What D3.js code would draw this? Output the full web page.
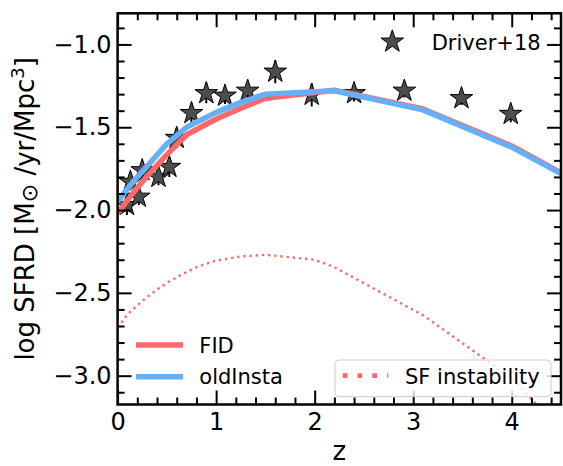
<!DOCTYPE html>
<html>
<head>
<meta charset="utf-8">
<script src="https://cdn.jsdelivr.net/npm/d3@7"></script>
<style>
  html, body { margin: 0; padding: 0; background: #fff; }
  svg { display: block; font-family: "DejaVu Sans", sans-serif; }
</style>
</head>
<body>
<svg id="chart" width="563" height="466"></svg>
<script>
// Driver+18 cosmic star-formation-rate density measurements
const driverZ      = [0.095, 0.13, 0.215, 0.25, 0.415, 0.525, 0.60, 0.75, 0.90, 1.09, 1.32, 1.60, 1.97, 2.40, 2.91, 3.49, 3.99];
const driverLogSFRD = [-1.97, -1.83, -1.92, -1.76, -1.80, -1.74, -1.565, -1.415, -1.295, -1.31, -1.28, -1.165, -1.305, -1.295, -1.28, -1.325, -1.42];
const driverErr    = [0.06, 0.05, 0.05, 0.05, 0.05, 0.06, 0.06, 0.06, 0.06, 0.05, 0.05, 0.07, 0.07, 0.05, 0.04, 0.04, 0.05];

// model runs, sampled at snapshot redshifts
const modelZ          = [0, 0.1, 0.2, 0.3, 0.5, 0.7, 1.0, 1.25, 1.5, 2.2, 3.1, 4.0, 4.5];
const fidLogSFRD      = [-2.02, -1.94, -1.865, -1.795, -1.665, -1.545, -1.45, -1.385, -1.325, -1.277, -1.39, -1.613, -1.775];
const oldInstaLogSFRD = [-1.95, -1.87, -1.80, -1.735, -1.60, -1.50, -1.41, -1.35, -1.30, -1.28, -1.395, -1.62, -1.78];

// star formation triggered by the instability channel only
const instabZ       = [0, 0.1, 0.2, 0.3, 0.4, 0.5, 0.6, 0.7, 0.8, 0.9, 1.0, 1.25, 1.5, 2.0, 2.2, 3.1, 4.0, 4.5];
const instabLogSFRD = [-2.71, -2.63, -2.575, -2.525, -2.48, -2.44, -2.405, -2.375, -2.345, -2.325, -2.305, -2.28, -2.27, -2.30, -2.345, -2.635, -3.015, -3.33];

const xMajorTicks = [0, 1, 2, 3, 4];
const yMajorTicks = [-1.0, -1.5, -2.0, -2.5, -3.0];
const legendLabels = ["Driver+18", "FID", "oldInsta", "SF instability"];

const colors = { fid: "#ff6868", oldInsta: "#66b0fa", star: "#4d4d4d" };

const W = 563, H = 466;
const plot = { left: 117.6, right: 561, top: 13.3, bottom: 404.5 };

const svg = d3.select("#chart");

const x = d3.scaleLinear().domain([0, 4.5]).range([plot.left, plot.right]);
const y = d3.scaleLinear().domain([-3.174, -0.812]).range([plot.bottom, plot.top]);

const xMinor = d3.range(0, 4.5001, 0.2).map(v => +v.toFixed(2)).filter(v => !xMajorTicks.includes(v));
const yMinor = d3.range(-3.1, -0.8, 0.1).map(v => +v.toFixed(2)).filter(v => !yMajorTicks.includes(v));

svg.append("defs").append("clipPath").attr("id", "plotClip")
  .append("rect")
  .attr("x", plot.left).attr("y", plot.top)
  .attr("width", plot.right - plot.left).attr("height", plot.bottom - plot.top);

const body = svg.append("g").attr("clip-path", "url(#plotClip)");

// observational points: error bars under star markers
const star = d3.symbol().type(d3.symbolStar).size(158);
const obs = body.append("g");
driverZ.forEach((z, i) => {
  obs.append("line")
    .attr("x1", x(z)).attr("x2", x(z))
    .attr("y1", y(driverLogSFRD[i] - driverErr[i]))
    .attr("y2", y(driverLogSFRD[i] + driverErr[i]))
    .attr("stroke", "#000").attr("stroke-width", 2);
});
driverZ.forEach((z, i) => {
  obs.append("path")
    .attr("d", star())
    .attr("transform", `translate(${x(z)},${y(driverLogSFRD[i])})`)
    .attr("fill", colors.star).attr("stroke", "#000").attr("stroke-width", 1);
});

const line = d3.line().x(d => x(d[0])).y(d => y(d[1]));

// SF-instability contribution (dotted)
body.append("path")
  .datum(d3.zip(instabZ, instabLogSFRD))
  .attr("d", line)
  .attr("fill", "none")
  .attr("stroke", colors.fid)
  .attr("stroke-width", 2.4)
  .attr("stroke-dasharray", "2.4,3.8");

body.append("path")
  .datum(d3.zip(modelZ, fidLogSFRD))
  .attr("d", line)
  .attr("fill", "none")
  .attr("stroke", colors.fid)
  .attr("stroke-width", 5.5)
  .attr("stroke-linejoin", "round");

body.append("path")
  .datum(d3.zip(modelZ, oldInstaLogSFRD))
  .attr("d", line)
  .attr("fill", "none")
  .attr("stroke", colors.oldInsta)
  .attr("stroke-width", 5.5)
  .attr("stroke-linejoin", "round");

// axes: inward ticks on all four sides
const fmtY = d3.format(".1f");
function styleAxis(g) {
  g.select(".domain").remove();
  g.selectAll(".tick line").attr("stroke", "#000").attr("stroke-width", 2);
  g.selectAll(".tick text").attr("fill", "#000").style("font-size", "24px")
    .style("font-family", '"DejaVu Sans", sans-serif');
}

svg.append("g").attr("transform", `translate(0,${plot.bottom})`)
  .call(d3.axisBottom(x).tickValues(xMajorTicks).tickFormat(d3.format("d")).tickSize(-14).tickPadding(8))
  .call(styleAxis);
svg.append("g").attr("transform", `translate(0,${plot.bottom})`)
  .call(d3.axisBottom(x).tickValues(xMinor).tickFormat("").tickSize(-7))
  .call(styleAxis);
svg.append("g").attr("transform", `translate(0,${plot.top})`)
  .call(d3.axisTop(x).tickValues(xMajorTicks).tickFormat("").tickSize(-14))
  .call(styleAxis);
svg.append("g").attr("transform", `translate(0,${plot.top})`)
  .call(d3.axisTop(x).tickValues(xMinor).tickFormat("").tickSize(-7))
  .call(styleAxis);

svg.append("g").attr("transform", `translate(${plot.left},0)`)
  .call(d3.axisLeft(y).tickValues(yMajorTicks).tickFormat(fmtY).tickSize(-14).tickPadding(6))
  .call(styleAxis);
svg.append("g").attr("transform", `translate(${plot.left},0)`)
  .call(d3.axisLeft(y).tickValues(yMinor).tickFormat("").tickSize(-7))
  .call(styleAxis);
svg.append("g").attr("transform", `translate(${plot.right},0)`)
  .call(d3.axisRight(y).tickValues(yMajorTicks).tickFormat("").tickSize(-14))
  .call(styleAxis);
svg.append("g").attr("transform", `translate(${plot.right},0)`)
  .call(d3.axisRight(y).tickValues(yMinor).tickFormat("").tickSize(-7))
  .call(styleAxis);

svg.append("rect")
  .attr("x", plot.left).attr("y", plot.top)
  .attr("width", plot.right - plot.left).attr("height", plot.bottom - plot.top)
  .attr("fill", "none").attr("stroke", "#000").attr("stroke-width", 2.5);

// axis titles
svg.append("text")
  .attr("x", (plot.left + plot.right) / 2).attr("y", 460)
  .attr("text-anchor", "middle").style("font-size", "26px").text("z");

const yTitle = svg.append("text")
  .attr("transform", `translate(34,${(plot.top + plot.bottom) / 2}) rotate(-90)`)
  .attr("text-anchor", "middle").style("font-size", "26px");
yTitle.append("tspan").text("log SFRD [M");
yTitle.append("tspan").attr("dy", 3).style("font-size", "22px").text("\u2299");
yTitle.append("tspan").attr("dy", -3).text(" /yr/Mpc");
yTitle.append("tspan").attr("dy", -10).style("font-size", "18px").text("3");
yTitle.append("tspan").attr("dy", 10).text("]");

// legends
const legFont = "21px";
svg.append("path").attr("d", star())
  .attr("transform", "translate(392.3,41.7)")
  .attr("fill", colors.star).attr("stroke", "#000").attr("stroke-width", 1);
svg.append("text").attr("x", 431.7).attr("y", 42).attr("dy", "0.36em")
  .style("font-size", legFont).text(legendLabels[0]);

[[legendLabels[1], colors.fid, 345], [legendLabels[2], colors.oldInsta, 376.7]].forEach(([lab, col, ly]) => {
  svg.append("line").attr("x1", 136).attr("x2", 183).attr("y1", ly).attr("y2", ly)
    .attr("stroke", col).attr("stroke-width", 5.5);
  svg.append("text").attr("x", 199.3).attr("y", ly).attr("dy", "0.36em")
    .style("font-size", legFont).text(lab);
});

svg.append("rect").attr("x", 335).attr("y", 360).attr("width", 216).attr("height", 36.7)
  .attr("rx", 4).attr("fill", "#fff").attr("fill-opacity", 0.8)
  .attr("stroke", "#cccccc").attr("stroke-width", 1);
svg.append("line").attr("x1", 342.7).attr("x2", 388.3).attr("y1", 375.7).attr("y2", 375.7)
  .attr("stroke", colors.fid).attr("stroke-width", 4.7).attr("stroke-dasharray", "4.7,10.1");
svg.append("text").attr("x", 405).attr("y", 376.7).attr("dy", "0.36em")
  .style("font-size", legFont).text(legendLabels[3]);
</script>
</body>
</html>
